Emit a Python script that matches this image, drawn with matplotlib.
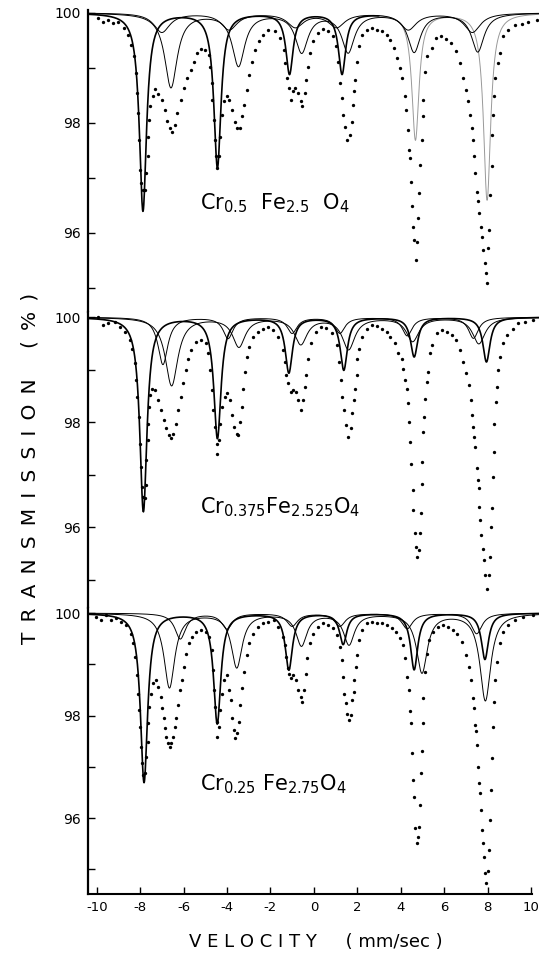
import numpy as np
import matplotlib.pyplot as plt

plt.rcParams['font.family'] = 'DejaVu Sans'
plt.rcParams['axes.unicode_minus'] = False
plt.rcParams['mathtext.default'] = 'regular'

# --- measured points, velocity (mm/s) and transmission (%) ---
# Cr0.5 Fe2.5 O4
cr050_v = [-9.94, -9.71, -9.48, -9.25, -9.02, -8.76, -8.56, -8.40, -8.29, -8.20,
           -8.14, -8.08, -8.03, -7.99, -7.94, -7.87, -7.79, -7.71, -7.66, -7.63,
           -7.59, -7.53, -7.43, -7.31, -7.16, -7.00, -6.87, -6.74, -6.64, -6.53,
           -6.41, -6.28, -6.14, -5.99, -5.84, -5.68, -5.53, -5.36, -5.18, -4.99,
           -4.84, -4.76, -4.71, -4.67, -4.62, -4.56, -4.50, -4.44, -4.36, -4.30,
           -4.24, -4.15, -4.02, -3.90, -3.75, -3.64, -3.53, -3.41, -3.32, -3.23,
           -3.10, -2.98, -2.84, -2.70, -2.53, -2.34, -2.11,
           -1.80, -1.57, -1.38, -1.31, -1.23, -1.14, -1.07, -0.98, -0.88, -0.72,
           -0.61, -0.54, -0.41, -0.34, -0.26, -0.18, -0.03, 0.20, 0.43, 0.66,
           0.86, 1.01, 1.12, 1.20, 1.28, 1.35, 1.43, 1.54, 1.66, 1.74,
           1.81, 1.86, 1.89, 1.97, 2.06, 2.24, 2.46, 2.70, 2.92, 3.15,
           3.35, 3.53, 3.69, 3.84, 3.96, 4.07, 4.19, 4.25, 4.32, 4.38,
           4.42, 4.47, 4.52, 4.56, 4.61, 4.69, 4.75, 4.79, 4.84, 4.90,
           4.96, 5.01, 5.04, 5.12, 5.22, 5.45, 5.61, 5.84, 6.07, 6.31,
           6.54, 6.73, 6.88, 7.00, 7.11, 7.19, 7.27, 7.31, 7.37, 7.43,
           7.50, 7.56, 7.60, 7.68, 7.74, 7.80, 7.87, 7.93, 7.97, 8.03,
           8.08, 8.11, 8.19, 8.22, 8.25, 8.29, 8.36, 8.46, 8.57, 8.72,
           8.95, 9.26, 9.57, 9.88, 10.26]
cr050_t = [99.90, 99.84, 99.87, 99.82, 99.84, 99.72, 99.60, 99.42, 99.21, 98.90,
           98.54, 98.18, 97.69, 97.15, 96.91, 96.78, 96.78, 97.09, 97.39, 97.75,
           98.05, 98.30, 98.48, 98.61, 98.53, 98.42, 98.24, 98.04, 97.90, 97.84,
           97.96, 98.18, 98.42, 98.63, 98.81, 98.96, 99.11, 99.27, 99.34, 99.33,
           99.24, 99.02, 98.72, 98.42, 98.05, 97.69, 97.39, 97.18, 97.39, 97.75,
           98.15, 98.39, 98.48, 98.42, 98.24, 98.02, 97.90, 97.90, 98.12, 98.33,
           98.60, 98.87, 99.11, 99.33, 99.48, 99.60, 99.69,
           99.66, 99.54, 99.33, 99.08, 98.81, 98.63, 98.42, 98.57, 98.63, 98.54,
           98.39, 98.30, 98.54, 98.78, 99.02, 99.27, 99.48, 99.63, 99.70, 99.66,
           99.57, 99.39, 99.11, 98.72, 98.45, 98.15, 97.93, 97.69, 97.78, 98.02,
           98.33, 98.57, 98.78, 99.11, 99.39, 99.60, 99.69, 99.72, 99.69, 99.66,
           99.60, 99.51, 99.36, 99.18, 99.00, 98.81, 98.48, 98.24, 97.87, 97.51,
           97.36, 96.93, 96.48, 96.11, 95.87, 95.51, 95.84, 96.27, 96.72, 97.24,
           97.69, 98.12, 98.42, 98.93, 99.21, 99.36, 99.54, 99.58, 99.52, 99.45,
           99.30, 99.08, 98.81, 98.60, 98.39, 98.15, 97.90, 97.69, 97.39, 97.09,
           96.75, 96.57, 96.36, 96.11, 95.93, 95.69, 95.45, 95.27, 95.09, 95.72,
           96.05, 96.69, 97.21, 97.78, 98.15, 98.48, 98.81, 99.08, 99.27, 99.57,
           99.69, 99.78, 99.80, 99.84, 99.87]

# Cr0.375 Fe2.525 O4
cr0375_v = [-9.94, -9.71, -9.48, -9.17, -8.94, -8.71, -8.48, -8.36, -8.25, -8.17,
            -8.13, -8.06, -8.02, -7.97, -7.93, -7.87, -7.79, -7.74, -7.71, -7.66,
            -7.63, -7.59, -7.53, -7.45, -7.33, -7.17, -7.02, -6.90, -6.79, -6.68,
            -6.59, -6.48, -6.36, -6.25, -6.13, -6.02, -5.91, -5.79, -5.64, -5.41,
            -5.18, -4.98, -4.87, -4.79, -4.71, -4.64, -4.56, -4.48, -4.44, -4.36,
            -4.30, -4.22, -4.10, -3.98, -3.87, -3.76, -3.67, -3.56, -3.49, -3.41,
            -3.33, -3.26, -3.18, -3.10, -2.98, -2.80, -2.57, -2.34, -2.11,
            -1.87, -1.65, -1.44, -1.34, -1.26, -1.18, -1.07, -0.95, -0.83, -0.72,
            -0.60, -0.49, -0.41, -0.34, -0.26, -0.11, 0.12, 0.35, 0.58, 0.82,
            1.05, 1.15, 1.23, 1.30, 1.38, 1.47, 1.58, 1.69, 1.78, 1.84,
            1.90, 1.97, 2.01, 2.09, 2.23, 2.43, 2.66, 2.89, 3.12, 3.35,
            3.53, 3.73, 3.89, 4.04, 4.12, 4.19, 4.27, 4.32, 4.38, 4.42,
            4.48, 4.55, 4.59, 4.65, 4.70, 4.76, 4.83, 4.88, 4.92, 4.96,
            4.99, 5.04, 5.07, 5.13, 5.19, 5.27, 5.35, 5.42, 5.65, 5.88,
            6.12, 6.35, 6.54, 6.73, 6.88, 7.03, 7.14, 7.22, 7.30, 7.34,
            7.39, 7.43, 7.50, 7.54, 7.59, 7.62, 7.66, 7.71, 7.77, 7.83,
            7.89, 7.99, 8.08, 8.13, 8.16, 8.20, 8.24, 8.28, 8.31, 8.37,
            8.43, 8.48, 8.57, 8.72, 8.91, 9.16, 9.42, 9.72, 10.11]
cr0375_t = [100.0, 99.85, 99.88, 99.91, 99.82, 99.72, 99.56, 99.40, 99.12, 98.80,
            98.48, 98.10, 97.59, 97.15, 96.77, 96.58, 96.55, 96.80, 97.28, 97.66,
            97.97, 98.29, 98.51, 98.64, 98.61, 98.42, 98.23, 98.04, 97.88, 97.75,
            97.69, 97.78, 97.97, 98.23, 98.48, 98.74, 98.99, 99.21, 99.37, 99.53,
            99.56, 99.50, 99.31, 98.99, 98.61, 98.23, 97.91, 97.59, 97.39, 97.66,
            97.97, 98.29, 98.48, 98.55, 98.42, 98.13, 97.91, 97.78, 97.75, 98.01,
            98.29, 98.64, 98.96, 99.24, 99.43, 99.62, 99.72, 99.78, 99.82,
            99.75, 99.62, 99.37, 99.15, 98.90, 98.74, 98.58, 98.62, 98.58, 98.42,
            98.23, 98.42, 98.67, 98.90, 99.21, 99.50, 99.72, 99.82, 99.80, 99.69,
            99.47, 99.15, 98.80, 98.48, 98.23, 97.94, 97.72, 97.88, 98.17, 98.42,
            98.64, 98.90, 99.21, 99.40, 99.62, 99.78, 99.85, 99.83, 99.78, 99.72,
            99.62, 99.50, 99.31, 99.21, 99.02, 98.80, 98.64, 98.36, 98.01, 97.62,
            97.21, 96.70, 96.32, 95.88, 95.62, 95.43, 95.56, 95.88, 96.26, 96.83,
            97.24, 97.82, 98.10, 98.45, 98.77, 98.96, 99.31, 99.47, 99.69, 99.75,
            99.72, 99.66, 99.56, 99.37, 99.15, 98.93, 98.70, 98.42, 98.13, 97.91,
            97.72, 97.53, 97.12, 96.90, 96.74, 96.39, 96.13, 95.85, 95.59, 95.37,
            95.09, 94.83, 95.09, 95.43, 96.01, 96.36, 96.96, 97.43, 97.97, 98.39,
            98.66, 98.99, 99.24, 99.50, 99.66, 99.78, 99.88, 99.91, 99.94]

# Cr0.25 Fe2.75 O4
cr025_v = [-10.02, -9.79, -9.56, -9.32, -9.09, -8.86, -8.63, -8.43, -8.33, -8.23,
           -8.16, -8.10, -8.05, -8.00, -7.96, -7.90, -7.85, -7.77, -7.71, -7.66,
           -7.62, -7.57, -7.51, -7.40, -7.28, -7.17, -7.06, -6.97, -6.91, -6.85,
           -6.79, -6.71, -6.64, -6.56, -6.48, -6.41, -6.33, -6.26, -6.18, -6.08,
           -5.99, -5.87, -5.75, -5.59, -5.41, -5.18, -4.98, -4.82, -4.71, -4.64,
           -4.58, -4.53, -4.48, -4.44, -4.36, -4.30, -4.24, -4.15, -4.02, -3.90,
           -3.82, -3.75, -3.67, -3.61, -3.53, -3.46, -3.38, -3.29, -3.21, -3.10,
           -2.98, -2.80, -2.57, -2.34, -2.11,
           -1.84, -1.65, -1.41, -1.34, -1.26, -1.21, -1.15, -1.07, -0.95, -0.83,
           -0.72, -0.61, -0.54, -0.46, -0.38, -0.31, -0.18, -0.03, 0.20, 0.43,
           0.66, 0.89, 1.07, 1.20, 1.28, 1.35, 1.41, 1.47, 1.54, 1.63,
           1.72, 1.78, 1.83, 1.87, 1.92, 1.97, 2.06, 2.20, 2.43, 2.66,
           2.89, 3.12, 3.35, 3.58, 3.78, 3.96, 4.09, 4.19, 4.30, 4.36,
           4.42, 4.47, 4.53, 4.58, 4.62, 4.67, 4.73, 4.78, 4.83, 4.87,
           4.92, 4.96, 5.01, 5.05, 5.12, 5.19, 5.30, 5.50, 5.73, 5.96,
           6.19, 6.42, 6.61, 6.81, 7.00, 7.14, 7.24, 7.31, 7.39, 7.43,
           7.48, 7.51, 7.56, 7.60, 7.65, 7.70, 7.74, 7.80, 7.85, 7.89,
           7.95, 8.03, 8.08, 8.11, 8.14, 8.19, 8.24, 8.28, 8.34, 8.42,
           8.57, 8.72, 8.95, 9.26, 9.65, 10.11]
cr025_t = [99.93, 99.86, 99.96, 99.86, 99.90, 99.83, 99.77, 99.60, 99.41, 99.15,
           98.79, 98.43, 98.11, 97.78, 97.39, 97.07, 96.84, 96.88, 97.20, 97.49,
           97.85, 98.17, 98.43, 98.63, 98.69, 98.56, 98.37, 98.14, 97.95, 97.75,
           97.59, 97.46, 97.39, 97.46, 97.59, 97.78, 97.95, 98.21, 98.50, 98.69,
           98.95, 99.21, 99.41, 99.54, 99.64, 99.67, 99.64, 99.54, 99.28, 98.89,
           98.50, 98.17, 97.88, 97.59, 97.78, 98.11, 98.43, 98.69, 98.79, 98.50,
           98.30, 97.95, 97.72, 97.56, 97.66, 97.88, 98.21, 98.53, 98.86, 99.18,
           99.41, 99.60, 99.73, 99.80, 99.83,
           99.86, 99.73, 99.54, 99.38, 99.15, 98.92, 98.82, 98.73, 98.79, 98.69,
           98.50, 98.37, 98.27, 98.50, 98.82, 99.12, 99.41, 99.60, 99.73, 99.80,
           99.77, 99.70, 99.57, 99.34, 99.08, 98.76, 98.43, 98.24, 98.04, 97.91,
           98.01, 98.30, 98.47, 98.69, 98.95, 99.18, 99.47, 99.67, 99.80, 99.83,
           99.80, 99.80, 99.77, 99.70, 99.64, 99.51, 99.38, 99.12, 98.76, 98.50,
           98.08, 97.85, 97.27, 96.74, 96.42, 95.80, 95.51, 95.64, 95.83, 96.26,
           96.88, 97.30, 97.85, 98.34, 98.86, 99.21, 99.47, 99.64, 99.73, 99.77,
           99.73, 99.67, 99.60, 99.44, 99.18, 98.95, 98.69, 98.34, 98.14, 97.82,
           97.69, 97.43, 97.00, 96.68, 96.49, 96.16, 95.77, 95.51, 95.25, 94.93,
           94.73, 94.96, 95.38, 95.96, 96.55, 97.17, 97.78, 98.27, 98.69, 99.05,
           99.41, 99.64, 99.77, 99.86, 99.93, 99.96]

# --- fitted sub-spectra: line positions (mm/s), depths (%), line width (mm/s) ---
cr050_pos = [[-7.87, -4.44, -1.12, 1.30, 4.68, 7.98],
             [-6.58, -3.47, -0.56, 1.58, 4.62, 7.55],
             [-7.00, -3.90, -0.85, 1.05, 4.35, 7.30]]
cr050_depth = [[3.6, 2.8, 1.1, 1.1, 2.3, 3.4],
               [1.35, 0.95, 0.7, 0.7, 0.7, 0.7],
               [0.35, 0.30, 0.25, 0.25, 0.30, 0.35]]
cr050_width = [0.40, 0.70, 0.90]

cr0375_pos = [[-7.85, -4.44, -1.15, 1.38, 4.62, 7.95],
              [-6.55, -3.45, -0.60, 1.60, 4.55, 7.60],
              [-6.95, -3.95, -1.00, 1.20, 4.30, 7.35]]
cr0375_depth = [[3.7, 2.3, 1.05, 1.0, 0.75, 0.85],
                [1.3, 0.55, 0.5, 0.6, 0.45, 0.5],
                [0.9, 0.4, 0.3, 0.3, 0.35, 0.4]]
cr0375_width = [0.40, 0.70, 0.55]

cr025_pos = [[-7.82, -4.45, -1.15, 1.35, 4.62, 7.88],
             [-6.65, -3.55, -0.57, 1.62, 4.98, 7.90],
             [-6.15, -4.00, -1.00, 1.20, 4.30, 7.50]]
cr025_depth = [[3.3, 2.15, 1.1, 0.6, 1.1, 0.9],
               [1.45, 1.05, 0.62, 0.6, 1.15, 1.7],
               [0.5, 0.3, 0.25, 0.25, 0.3, 0.4]]
cr025_width = [0.40, 0.60, 0.60]

labels = [r'Cr$_{0.5}$  Fe$_{2.5}$  O$_4$',
          r'Cr$_{0.375}$Fe$_{2.525}$O$_4$',
          r'Cr$_{0.25}$ Fe$_{2.75}$O$_4$']

vgrid = np.linspace(-10.4, 10.4, 1500)


def sextet(pos, depth, fwhm):
    t = np.full_like(vgrid, 100.0)
    for p, d in zip(pos, depth):
        t -= d / (1 + ((vgrid - p) / (fwhm / 2)) ** 2)
    return t


fig = plt.figure(figsize=(5.39, 9.55), dpi=100)
left, width = 0.1633, 0.8367
boxes = [[left, 0.6733, width, 0.3162],
         [left, 0.3634, width, 0.3100],
         [left, 0.0639, width, 0.2995]]
ylims = [(94.56, 100.05), (94.46, 100.1), (94.52, 100.1)]
panels = [(cr050_v, cr050_t, cr050_pos, cr050_depth, cr050_width),
          (cr0375_v, cr0375_t, cr0375_pos, cr0375_depth, cr0375_width),
          (cr025_v, cr025_t, cr025_pos, cr025_depth, cr025_width)]
label_xy = [(-5.25, 96.42), (-5.25, 96.27), (-5.25, 96.55)]

for i, (v, t, pos, dep, wid) in enumerate(panels):
    ax = fig.add_axes(boxes[i])
    for k in range(3):
        curve = sextet(pos[k], dep[k], wid[k])
        if i == 0 and k == 0:
            # right half of this line is faded in the print
            m = vgrid < 3
            ax.plot(vgrid[m], curve[m], color='black', lw=1.2)
            ax.plot(vgrid[~m], curve[~m], color='0.6', lw=0.7)
        else:
            ax.plot(vgrid, curve, color='black', lw=1.2 if k == 0 else 0.7)
    ax.plot(v, t, 'o', color='black', ms=2.4, mec='none')
    ax.text(*label_xy[i], labels[i], fontsize=15, va='baseline')

    ax.set_xlim(-10.4, 10.37)
    ax.set_ylim(*ylims[i])
    ax.set_yticks([96, 98, 100])
    ax.set_yticks([95, 97, 99], minor=True)
    ax.tick_params(axis='y', which='both', direction='in', length=5, width=1,
                   labelsize=10, pad=5)
    for s in ['top', 'right']:
        ax.spines[s].set_visible(False)
    ax.spines['left'].set_linewidth(1.6)
    if i < 2:
        ax.spines['bottom'].set_visible(False)
        ax.tick_params(axis='x', bottom=False, labelbottom=False)
    else:
        ax.spines['bottom'].set_linewidth(1.5)
        ax.spines['bottom'].set_bounds(-10.4, 10.05)
        ax.set_xticks(range(-10, 11, 2))
        ax.tick_params(axis='x', direction='in', length=5, width=1,
                       labelsize=9.5, pad=5)

ylab = '\u2002'.join('TRANSMISSION') + '\u2002' * 3 + '(\u2002%\u2002)'
fig.text(0.056, 0.51, ylab, rotation=90, fontsize=14.5, ha='center', va='center')
fig.text(0.585, 0.0136, 'V E L O C I T Y     ( mm/sec )', fontsize=13,
         ha='center', va='center')

fig.savefig('out.png', dpi=100)
